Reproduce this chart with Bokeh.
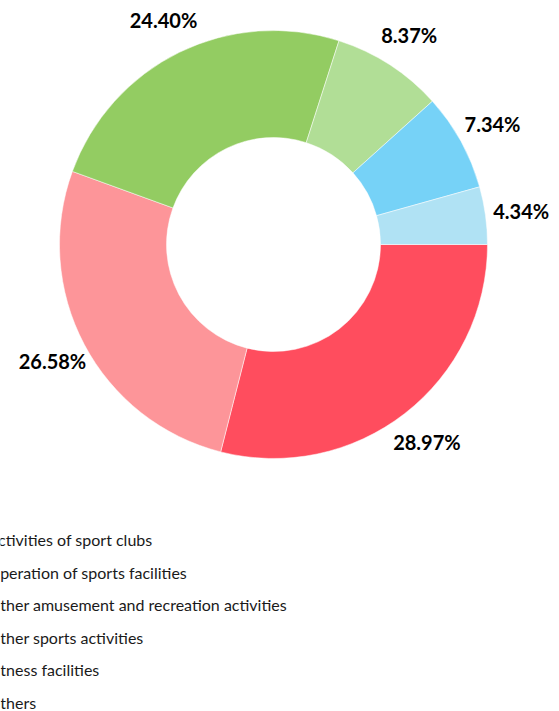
import numpy as np
from bokeh.plotting import figure
from bokeh.models import ColumnDataSource, Range1d
from bokeh.core.properties import value
from bokeh.embed import file_html
from bokeh.resources import INLINE

categories = ["Activities of sport clubs", "Operation of sports facilities",
              "Other amusement and recreation activities", "Other sports activities",
              "Fitness facilities", "Others"]
shares = [28.97, 26.58, 24.40, 8.37, 7.34, 4.34]
colors = ["#FF4D5E", "#FD9599", "#93CC62", "#B1DE96", "#76D2F7", "#B0E2F4"]
labels = ["28.97%", "26.58%", "24.40%", "8.37%", "7.34%", "4.34%"]

W, H = 559, 711
CX, CY = 273, H - 244
R_OUT, R_IN, R_LAB = 214, 107, 250

vals = np.array(shares)
frac = vals / vals.sum()
cum = np.concatenate([[0], np.cumsum(frac)])
start = -cum[:-1] * 2 * np.pi
end = -cum[1:] * 2 * np.pi
mid = (start + end) / 2

src = ColumnDataSource(dict(start=start, end=end, color=colors, cat=categories,
                            lx=CX + R_LAB * np.cos(mid), ly=CY + R_LAB * np.sin(mid),
                            lab=labels))

p = figure(width=W, height=H, output_backend="svg", toolbar_location=None,
           x_range=Range1d(0, W), y_range=Range1d(0, H), min_border=0)
p.axis.visible = False
p.grid.visible = False
p.outline_line_color = None

p.annular_wedge(x=CX, y=CY, inner_radius=R_IN, outer_radius=R_OUT,
                start_angle="start", end_angle="end", direction="clock",
                fill_color="color", line_color="white", line_width=0.5, source=src)

p.text(x="lx", y="ly", text="lab", source=src, text_align="center",
       text_baseline="middle", text_font=value("Lato"), text_font_style="bold",
       text_font_size="20px", text_color="#000000")

# legend (cut off at the left edge as in the reference)
leg_y = [H - (539 + 32.5 * i) for i in range(len(categories))]
leg = ColumnDataSource(dict(x=[-13] * len(categories), y=leg_y, t=categories,
                            mx=[-35] * len(categories), c=colors))
p.scatter(x="mx", y="y", marker="square", size=12, color="c", source=leg)
p.text(x="x", y="y", text="t", source=leg, text_baseline="middle",
       text_font=value("Lato"), text_font_size="16px", text_color="#1a1a1a")

open("out.html", "w").write(file_html(p, INLINE))
